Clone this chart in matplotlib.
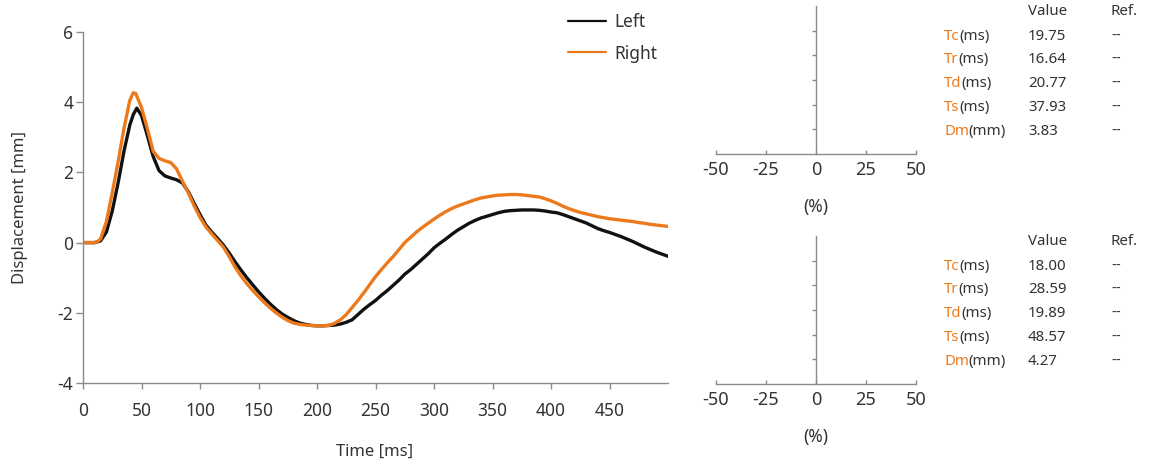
import matplotlib
matplotlib.use("Agg")
import matplotlib.pyplot as plt

plt.rcParams['font.family'] = ['Noto Sans', 'DejaVu Sans']
plt.rcParams['axes.unicode_minus'] = False

# ---------------- data ----------------
time_left = [0, 5, 10, 15, 20, 25, 30, 35, 40, 43, 46, 50, 55, 60, 65, 70, 75, 80, 85, 90,
             95, 100, 105, 110, 115, 120, 125, 130, 135, 140, 145, 150, 155, 160, 165, 170,
             175, 180, 185, 190, 195, 200, 205, 210, 215, 220, 225, 230, 235, 240, 245, 250,
             255, 260, 265, 270, 275, 280, 285, 290, 295, 300, 305, 310, 315, 320, 325, 330,
             335, 340, 345, 350, 355, 360, 365, 370, 375, 380, 385, 390, 395, 400, 405, 410,
             415, 420, 425, 430, 435, 440, 445, 450, 455, 460, 465, 470, 475, 480, 485, 490,
             495, 500]
disp_left = [0, 0, 0, 0.05, 0.3, 0.9, 1.7, 2.6, 3.35, 3.65, 3.83, 3.62, 3.05, 2.45, 2.05, 1.9,
             1.84, 1.79, 1.7, 1.45, 1.12, 0.8, 0.5, 0.3, 0.12, -0.07, -0.3, -0.55, -0.78, -1.0,
             -1.2, -1.4, -1.58, -1.75, -1.9, -2.03, -2.13, -2.22, -2.29, -2.33, -2.36, -2.37,
             -2.37, -2.36, -2.35, -2.32, -2.27, -2.2, -2.05, -1.9, -1.77, -1.65, -1.5, -1.37,
             -1.22, -1.07, -0.9, -0.77, -0.62, -0.47, -0.32, -0.15, -0.02, 0.1, 0.23, 0.35,
             0.45, 0.55, 0.63, 0.7, 0.75, 0.8, 0.85, 0.89, 0.91, 0.92, 0.93, 0.93, 0.93, 0.92,
             0.9, 0.87, 0.85, 0.8, 0.74, 0.68, 0.62, 0.56, 0.48, 0.4, 0.34, 0.29, 0.23, 0.17,
             0.1, 0.03, -0.05, -0.13, -0.2, -0.27, -0.33, -0.39]

time_right = [0, 5, 10, 12, 15, 20, 25, 30, 35, 40, 43, 45, 50, 55, 60, 65, 70, 75, 80, 85,
              90, 95, 100, 105, 110, 115, 120, 125, 130, 135, 140, 145, 150, 155, 160, 165,
              170, 175, 180, 185, 190, 195, 200, 205, 210, 215, 220, 225, 230, 235, 240, 245,
              250, 255, 260, 265, 270, 275, 280, 285, 290, 295, 300, 305, 310, 315, 320, 325,
              330, 335, 340, 345, 350, 355, 360, 365, 370, 375, 380, 385, 390, 395, 400, 405,
              410, 415, 420, 425, 430, 435, 440, 445, 450, 455, 460, 465, 470, 475, 480, 485,
              490, 495, 500]
disp_right = [0, 0, 0, 0.02, 0.1, 0.6, 1.42, 2.3, 3.25, 4.05, 4.27, 4.25, 3.85, 3.25, 2.6,
              2.4, 2.33, 2.28, 2.1, 1.75, 1.42, 1.05, 0.72, 0.45, 0.25, 0.06, -0.13, -0.4,
              -0.7, -0.95, -1.17, -1.36, -1.54, -1.71, -1.86, -2.0, -2.12, -2.22, -2.29, -2.33,
              -2.35, -2.36, -2.37, -2.37, -2.36, -2.3, -2.2, -2.05, -1.85, -1.65, -1.43, -1.2,
              -0.97, -0.77, -0.58, -0.4, -0.2, 0.0, 0.15, 0.3, 0.43, 0.55, 0.67, 0.78, 0.88,
              0.97, 1.04, 1.1, 1.16, 1.22, 1.27, 1.3, 1.33, 1.35, 1.36, 1.37, 1.37, 1.36, 1.34,
              1.32, 1.3, 1.25, 1.19, 1.12, 1.04, 0.97, 0.91, 0.86, 0.82, 0.78, 0.74, 0.71, 0.68,
              0.66, 0.64, 0.62, 0.6, 0.57, 0.55, 0.52, 0.5, 0.48, 0.46]

series_names = ["Left", "Right"]
x_ticks = [0, 50, 100, 150, 200, 250, 300, 350, 400, 450]
y_ticks = [-4, -2, 0, 2, 4, 6]
pct_ticks = [-50, -25, 0, 25, 50]

param_names = ["Tc", "Tr", "Td", "Ts", "Dm"]
param_units = ["(ms)", "(ms)", "(ms)", "(ms)", "(mm)"]
values_left = ["19.75", "16.64", "20.77", "37.93", "3.83"]
values_right = ["18.00", "28.59", "19.89", "48.57", "4.27"]
refs = ["--", "--", "--", "--", "--"]

# ---------------- style ----------------
BLACK = "#111111"
ORANGE = "#EC7A1C"
TEXT = "#333333"
SPINE = "#8a8a8a"

W, H = 1157, 466
fig = plt.figure(figsize=(W / 100, H / 100), dpi=100)


def fx(px):
    return px / W


def fy(py):
    return 1 - py / H


# ---------------- main chart ----------------
ax = fig.add_axes([fx(83), fy(383), fx(668) - fx(83), fy(32) - fy(383)])
ax.plot(time_left, disp_left, color=BLACK, lw=2.4, label=series_names[0],
        solid_joinstyle='round', solid_capstyle='round')
ax.plot(time_right, disp_right, color=ORANGE, lw=2.4, label=series_names[1],
        solid_joinstyle='round', solid_capstyle='round')
ax.set_xlim(0, 500)
ax.set_ylim(-4, 6)
ax.set_xticks(x_ticks)
ax.set_yticks(y_ticks)
for s in ["top", "right"]:
    ax.spines[s].set_visible(False)
for s in ["left", "bottom"]:
    ax.spines[s].set_color(SPINE)
    ax.spines[s].set_linewidth(1.0)
ax.tick_params(axis='x', direction='out', length=4, width=1, color=SPINE,
               labelsize=12.5, labelcolor=TEXT, pad=10)
ax.tick_params(axis='y', direction='out', length=5, width=1, color=SPINE,
               labelsize=12.5, labelcolor=TEXT, pad=2)
fig.text(fx(20), fy(207), "Displacement [mm]", rotation=90, ha='center', va='center',
         fontsize=12, color=TEXT)
fig.text(fx(375), fy(452), "Time [ms]", ha='center', va='center', fontsize=12, color=TEXT)

leg = ax.legend(loc='upper left', bbox_to_anchor=(fx(568), fy(13)),
                bbox_transform=fig.transFigure, frameon=False, fontsize=12.5,
                handlelength=2.2, handletextpad=0.5, labelspacing=0.78,
                borderaxespad=0, borderpad=0)
for line in leg.get_lines():
    line.set_linewidth(1.6)
for t in leg.get_texts():
    t.set_color(TEXT)

renderer = fig.canvas.get_renderer()


# ---------------- side panels ----------------
def side_panel(top_px, values):
    a = fig.add_axes([fx(716), fy(top_px + 148), fx(916) - fx(716), fy(top_px) - fy(top_px + 148)])
    a.set_xlim(-50, 50)
    a.set_ylim(0, 6)
    a.set_xticks(pct_ticks)
    a.set_yticks([1, 2, 3, 4, 5])
    a.set_yticklabels([])
    a.spines['left'].set_position(('data', 0))
    for s in ["top", "right"]:
        a.spines[s].set_visible(False)
    for s in ["left", "bottom"]:
        a.spines[s].set_color(SPINE)
        a.spines[s].set_linewidth(1.0)
    a.tick_params(axis='x', direction='in', length=3, width=1, color=SPINE,
                  labelsize=13, labelcolor=TEXT, pad=5)
    a.tick_params(axis='y', direction='out', length=3, width=1, color=SPINE)
    a.set_xlabel("(%)", fontsize=12.5, color=TEXT, labelpad=14)
    a.patch.set_alpha(0)

    fs = 10.8
    fig.text(fx(1028), fy(top_px + 9), "Value", ha='left', va='baseline', fontsize=fs, color=TEXT)
    fig.text(fx(1111), fy(top_px + 9), "Ref.", ha='left', va='baseline', fontsize=fs, color=TEXT)
    row_y = [34, 57, 81, 105, 129]
    for name, unit, val, ref, ry in zip(param_names, param_units, values, refs, row_y):
        t1 = fig.text(fx(944), fy(top_px + ry), name, ha='left', va='baseline',
                      fontsize=fs, color=ORANGE)
        bb = t1.get_window_extent(renderer)
        fig.text((bb.x1 - 0.5) / W, fy(top_px + ry), unit, ha='left', va='baseline',
                 fontsize=fs, color=TEXT)
        fig.text(fx(1028), fy(top_px + ry), val, ha='left', va='baseline', fontsize=fs, color=TEXT)
        fig.text(fx(1111), fy(top_px + ry), ref, ha='left', va='baseline', fontsize=fs, color=TEXT)
    return a


side_panel(6, values_left)
side_panel(236, values_right)

fig.savefig("out.png", dpi=100)
